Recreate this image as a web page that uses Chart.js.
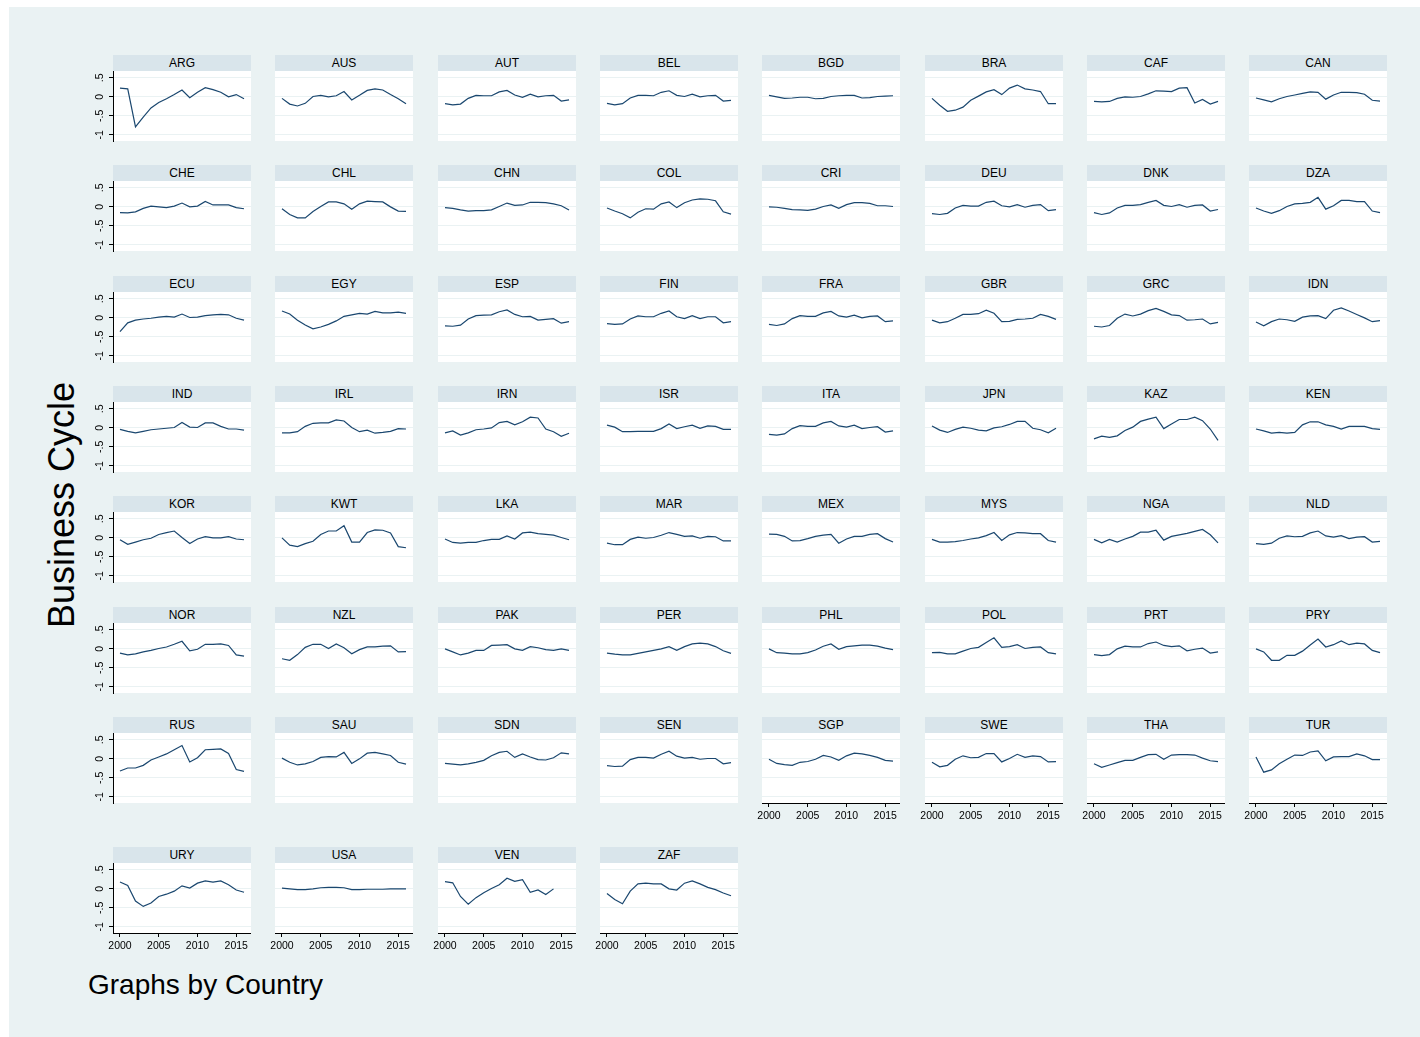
<!DOCTYPE html>
<html>
<head>
<meta charset="utf-8">
<script src="https://cdn.jsdelivr.net/npm/chart.js@4.4.1/dist/chart.umd.min.js"></script>
<style>
  body { margin: 0; background: #fff; font-family: "Liberation Sans", Arial, sans-serif; }
  #frame { position: absolute; left: 9px; top: 7px; width: 1411px; height: 1030px; background: #eaf2f3; }
  .strip { position: absolute; height: 16px; line-height: 16px; background: #d9e5eb;
           text-align: center; font-size: 12px; color: #000; }
  canvas { position: absolute; }
  #ytitle { position: absolute; left: -88px; top: 487px; width: 300px; height: 36px; line-height: 36px;
            font-size: 36px; text-align: center; white-space: nowrap; transform: rotate(-90deg); }
  #note { position: absolute; left: 88px; top: 971px; font-size: 28px; line-height: 28px; white-space: nowrap; }
</style>
</head>
<body>
<div id="frame"></div>
<div id="ytitle">Business Cycle</div>
<div id="note">Graphs by Country</div>
<script>
// business cycle component by country, 2000-2016
const years = [2000, 2001, 2002, 2003, 2004, 2005, 2006, 2007, 2008, 2009, 2010, 2011, 2012, 2013, 2014, 2015, 2016];
const xTicks = [2000, 2005, 2010, 2015];
const yTicks = [-1, -0.5, 0, 0.5];

const ARG = [0.23, 0.21, -0.79, -0.53, -0.29, -0.15, -0.05, 0.06, 0.18, -0.02, 0.12, 0.24, 0.19, 0.12, 0.0, 0.06, -0.05];
const AUS = [-0.04, -0.19, -0.24, -0.17, 0.01, 0.04, 0.0, 0.03, 0.14, -0.08, 0.04, 0.17, 0.21, 0.18, 0.06, -0.05, -0.18];
const AUT = [-0.18, -0.21, -0.19, -0.04, 0.04, 0.03, 0.03, 0.13, 0.17, 0.05, -0.01, 0.07, 0.0, 0.03, 0.04, -0.11, -0.08];
const BEL = [-0.17, -0.21, -0.18, -0.03, 0.04, 0.04, 0.03, 0.12, 0.16, 0.04, 0.01, 0.07, 0.0, 0.03, 0.04, -0.11, -0.09];
const BGD = [0.04, 0.0, -0.04, -0.03, -0.01, -0.01, -0.05, -0.04, 0.01, 0.03, 0.04, 0.04, -0.03, -0.02, 0.01, 0.02, 0.03];
const BRA = [-0.04, -0.22, -0.38, -0.35, -0.27, -0.09, 0.02, 0.13, 0.19, 0.06, 0.23, 0.31, 0.21, 0.18, 0.14, -0.18, -0.18];
const CAF = [-0.12, -0.13, -0.12, -0.04, 0.0, -0.01, 0.01, 0.08, 0.16, 0.15, 0.14, 0.23, 0.24, -0.16, -0.07, -0.19, -0.12];
const CAN = [-0.03, -0.08, -0.13, -0.05, 0.01, 0.05, 0.09, 0.13, 0.12, -0.06, 0.05, 0.12, 0.12, 0.11, 0.07, -0.09, -0.11];
const CHE = [-0.15, -0.16, -0.13, -0.04, 0.02, 0.0, -0.02, 0.02, 0.10, 0.0, 0.02, 0.14, 0.05, 0.05, 0.05, -0.02, -0.05];
const CHL = [-0.05, -0.20, -0.29, -0.29, -0.12, 0.01, 0.13, 0.13, 0.08, -0.06, 0.08, 0.15, 0.14, 0.13, 0.0, -0.11, -0.12];
const CHN = [-0.02, -0.04, -0.08, -0.11, -0.10, -0.10, -0.08, 0.01, 0.10, 0.04, 0.05, 0.12, 0.12, 0.11, 0.08, 0.03, -0.08];
const COL = [-0.03, -0.11, -0.18, -0.29, -0.14, -0.05, -0.06, 0.08, 0.13, -0.02, 0.11, 0.18, 0.21, 0.2, 0.16, -0.13, -0.19];
const CRI = [0.0, -0.01, -0.04, -0.07, -0.08, -0.09, -0.06, 0.01, 0.05, -0.04, 0.06, 0.11, 0.11, 0.09, 0.03, 0.03, 0.01];
const DEU = [-0.18, -0.2, -0.17, -0.03, 0.04, 0.02, 0.02, 0.12, 0.15, 0.03, 0.0, 0.06, -0.01, 0.04, 0.06, -0.1, -0.07];
const DNK = [-0.15, -0.2, -0.16, -0.03, 0.04, 0.04, 0.06, 0.12, 0.17, 0.04, 0.01, 0.06, -0.01, 0.04, 0.05, -0.11, -0.07];
const DZA = [-0.03, -0.11, -0.17, -0.1, 0.01, 0.08, 0.09, 0.12, 0.25, -0.06, 0.03, 0.17, 0.17, 0.14, 0.14, -0.11, -0.15];
const ECU = [-0.36, -0.13, -0.06, -0.03, -0.01, 0.02, 0.04, 0.02, 0.1, 0.01, 0.02, 0.06, 0.08, 0.09, 0.08, -0.01, -0.06];
const EGY = [0.18, 0.10, -0.06, -0.19, -0.29, -0.24, -0.17, -0.08, 0.04, 0.08, 0.12, 0.1, 0.17, 0.13, 0.13, 0.15, 0.12];
const ESP = [-0.21, -0.22, -0.19, -0.03, 0.06, 0.07, 0.08, 0.16, 0.21, 0.09, 0.03, 0.04, -0.06, -0.04, -0.02, -0.14, -0.1];
const FIN = [-0.15, -0.17, -0.16, -0.03, 0.05, 0.03, 0.03, 0.12, 0.18, 0.03, -0.02, 0.06, -0.02, 0.03, 0.03, -0.13, -0.1];
const FRA = [-0.17, -0.2, -0.16, -0.02, 0.06, 0.04, 0.04, 0.13, 0.17, 0.05, 0.02, 0.07, 0.0, 0.04, 0.05, -0.1, -0.08];
const GBR = [-0.06, -0.13, -0.1, -0.01, 0.09, 0.09, 0.11, 0.2, 0.12, -0.1, -0.09, -0.04, -0.03, -0.01, 0.09, 0.04, -0.04];
const GRC = [-0.22, -0.24, -0.2, -0.01, 0.1, 0.05, 0.1, 0.19, 0.25, 0.17, 0.08, 0.06, -0.06, -0.05, -0.03, -0.16, -0.12];
const IDN = [-0.11, -0.21, -0.1, -0.03, -0.05, -0.09, 0.02, 0.05, 0.06, -0.02, 0.2, 0.26, 0.18, 0.09, 0.0, -0.1, -0.07];
const IND = [-0.04, -0.09, -0.13, -0.09, -0.05, -0.03, -0.01, 0.01, 0.14, 0.02, 0.01, 0.13, 0.13, 0.04, -0.03, -0.03, -0.06];
const IRL = [-0.13, -0.13, -0.1, 0.04, 0.12, 0.13, 0.13, 0.21, 0.18, 0.01, -0.1, -0.06, -0.14, -0.12, -0.09, -0.02, -0.03];
const IRN = [-0.13, -0.08, -0.19, -0.13, -0.05, -0.03, 0.0, 0.14, 0.17, 0.08, 0.16, 0.28, 0.26, -0.03, -0.1, -0.22, -0.14];
const ISR = [0.07, 0.02, -0.1, -0.1, -0.09, -0.09, -0.09, -0.02, 0.1, -0.02, 0.03, 0.07, -0.01, 0.05, 0.04, -0.04, -0.04];
const ITA = [-0.17, -0.19, -0.16, -0.02, 0.06, 0.04, 0.04, 0.13, 0.17, 0.05, 0.02, 0.07, -0.02, 0.01, 0.03, -0.11, -0.08];
const JPN = [0.05, -0.06, -0.12, -0.04, 0.02, -0.01, -0.06, -0.08, 0.0, 0.03, 0.09, 0.17, 0.17, -0.01, -0.05, -0.13, -0.01];
const KAZ = [-0.29, -0.22, -0.25, -0.21, -0.07, 0.02, 0.17, 0.23, 0.28, -0.02, 0.1, 0.22, 0.22, 0.28, 0.19, -0.03, -0.33];
const KEN = [-0.03, -0.08, -0.14, -0.12, -0.14, -0.12, 0.08, 0.16, 0.16, 0.08, 0.04, -0.03, 0.04, 0.04, 0.04, -0.02, -0.04];
const KOR = [-0.05, -0.17, -0.11, -0.05, -0.01, 0.09, 0.14, 0.18, 0.01, -0.15, -0.03, 0.03, 0.0, 0.0, 0.03, -0.03, -0.05];
const KWT = [0.0, -0.19, -0.23, -0.15, -0.09, 0.09, 0.18, 0.18, 0.32, -0.11, -0.11, 0.14, 0.21, 0.2, 0.13, -0.23, -0.26];
const LKA = [-0.03, -0.12, -0.14, -0.12, -0.12, -0.07, -0.04, -0.04, 0.05, -0.03, 0.13, 0.15, 0.11, 0.09, 0.07, 0.01, -0.05];
const MAR = [-0.14, -0.18, -0.18, -0.04, 0.02, -0.01, 0.01, 0.07, 0.14, 0.09, 0.04, 0.05, -0.01, 0.04, 0.03, -0.08, -0.08];
const MEX = [0.1, 0.09, 0.04, -0.08, -0.07, -0.02, 0.04, 0.07, 0.09, -0.14, -0.03, 0.04, 0.04, 0.09, 0.11, -0.02, -0.11];
const MYS = [-0.04, -0.11, -0.11, -0.1, -0.07, -0.03, 0.0, 0.06, 0.14, -0.07, 0.08, 0.14, 0.13, 0.11, 0.11, -0.07, -0.11];
const NGA = [-0.04, -0.13, -0.04, -0.11, -0.03, 0.04, 0.15, 0.15, 0.2, -0.06, 0.04, 0.08, 0.12, 0.17, 0.22, 0.08, -0.13];
const NLD = [-0.15, -0.17, -0.14, -0.01, 0.05, 0.03, 0.04, 0.13, 0.18, 0.05, 0.02, 0.06, -0.02, 0.02, 0.03, -0.11, -0.09];
const NOR = [-0.11, -0.16, -0.13, -0.08, -0.04, 0.01, 0.05, 0.12, 0.2, -0.05, -0.01, 0.12, 0.12, 0.13, 0.09, -0.16, -0.19];
const NZL = [-0.26, -0.30, -0.15, 0.04, 0.12, 0.12, 0.01, 0.13, 0.03, -0.13, -0.02, 0.05, 0.05, 0.07, 0.08, -0.08, -0.07];
const PAK = [0.0, -0.08, -0.16, -0.11, -0.04, -0.04, 0.09, 0.1, 0.11, 0.0, -0.04, 0.06, 0.03, -0.02, -0.04, 0.0, -0.04];
const PER = [-0.11, -0.14, -0.16, -0.16, -0.12, -0.08, -0.04, 0.0, 0.06, -0.04, 0.06, 0.13, 0.15, 0.13, 0.06, -0.05, -0.12];
const PHL = [0.0, -0.1, -0.11, -0.13, -0.13, -0.1, -0.03, 0.07, 0.13, -0.01, 0.06, 0.08, 0.1, 0.1, 0.07, 0.02, -0.02];
const POL = [-0.1, -0.09, -0.13, -0.13, -0.06, 0.01, 0.04, 0.17, 0.29, 0.04, 0.06, 0.11, 0.01, 0.04, 0.05, -0.1, -0.13];
const PRT = [-0.15, -0.18, -0.15, 0.0, 0.07, 0.05, 0.05, 0.14, 0.18, 0.09, 0.06, 0.08, -0.05, -0.01, 0.02, -0.11, -0.08];
const PRY = [0.0, -0.08, -0.3, -0.3, -0.17, -0.17, -0.06, 0.1, 0.26, 0.05, 0.11, 0.21, 0.11, 0.15, 0.13, -0.04, -0.1];
const RUS = [-0.32, -0.24, -0.24, -0.17, -0.03, 0.05, 0.13, 0.24, 0.35, -0.08, 0.03, 0.24, 0.25, 0.26, 0.14, -0.28, -0.33];
const SAU = [0.02, -0.09, -0.16, -0.13, -0.07, 0.04, 0.06, 0.05, 0.17, -0.12, 0.0, 0.15, 0.17, 0.13, 0.09, -0.09, -0.14];
const SDN = [-0.12, -0.14, -0.16, -0.13, -0.09, -0.04, 0.08, 0.17, 0.2, 0.04, 0.13, 0.05, -0.02, -0.03, 0.03, 0.16, 0.13];
const SEN = [-0.18, -0.2, -0.19, -0.02, 0.04, 0.04, 0.02, 0.12, 0.2, 0.07, 0.02, 0.04, -0.01, 0.01, 0.01, -0.13, -0.1];
const SGP = [-0.01, -0.12, -0.15, -0.17, -0.09, -0.07, -0.01, 0.09, 0.05, -0.04, 0.08, 0.15, 0.13, 0.09, 0.04, -0.04, -0.06];
const SWE = [-0.09, -0.21, -0.17, -0.01, 0.08, 0.03, 0.04, 0.14, 0.14, -0.08, 0.01, 0.12, 0.04, 0.08, 0.06, -0.08, -0.07];
const THA = [-0.13, -0.22, -0.16, -0.1, -0.04, -0.04, 0.04, 0.11, 0.12, -0.01, 0.1, 0.11, 0.11, 0.1, 0.02, -0.05, -0.07];
const TUR = [0.05, -0.35, -0.29, -0.13, -0.01, 0.1, 0.09, 0.18, 0.21, -0.05, 0.05, 0.06, 0.06, 0.13, 0.08, -0.02, -0.02];
const URY = [0.18, 0.09, -0.32, -0.46, -0.37, -0.2, -0.14, -0.06, 0.08, 0.02, 0.15, 0.21, 0.18, 0.21, 0.11, -0.03, -0.09];
const USA = [0.02, 0.0, -0.02, -0.02, 0.0, 0.03, 0.04, 0.04, 0.03, -0.02, -0.02, -0.01, -0.01, -0.01, 0.0, 0.0, 0.0];
const VEN = [0.19, 0.16, -0.2, -0.4, -0.23, -0.1, 0.01, 0.11, 0.28, 0.2, 0.24, -0.09, -0.03, -0.15, 0.0];
const ZAF = [-0.12, -0.28, -0.39, -0.06, 0.13, 0.15, 0.13, 0.13, 0.0, -0.03, 0.15, 0.21, 0.13, 0.04, -0.02, -0.11, -0.18];

const countries = ['ARG','AUS','AUT','BEL','BGD','BRA','CAF','CAN','CHE','CHL','CHN','COL','CRI','DEU','DNK','DZA',
  'ECU','EGY','ESP','FIN','FRA','GBR','GRC','IDN','IND','IRL','IRN','ISR','ITA','JPN','KAZ','KEN',
  'KOR','KWT','LKA','MAR','MEX','MYS','NGA','NLD','NOR','NZL','PAK','PER','PHL','POL','PRT','PRY',
  'RUS','SAU','SDN','SEN','SGP','SWE','THA','TUR','URY','USA','VEN','ZAF'];
const series = [ARG, AUS, AUT, BEL, BGD, BRA, CAF, CAN, CHE, CHL, CHN, COL, CRI, DEU, DNK, DZA,
  ECU, EGY, ESP, FIN, FRA, GBR, GRC, IDN, IND, IRL, IRN, ISR, ITA, JPN, KAZ, KEN,
  KOR, KWT, LKA, MAR, MEX, MYS, NGA, NLD, NOR, NZL, PAK, PER, PHL, POL, PRT, PRY,
  RUS, SAU, SDN, SEN, SGP, SWE, THA, TUR, URY, USA, VEN, ZAF];

Chart.defaults.font.family = '"Liberation Sans", Arial, sans-serif';
Chart.defaults.color = '#000';

// white plot region behind each panel
const plotBg = {
  id: 'plotBg',
  beforeDraw(chart) {
    const a = chart.chartArea, c = chart.ctx;
    c.save();
    c.fillStyle = '#fff';
    c.fillRect(a.left, a.top, a.right - a.left, a.bottom - a.top);
    c.restore();
  }
};

// stata style: -1 -.5 0 .5
const fmtY = v => v === 0 ? '0' : String(v).replace(/^(-?)0\./, '$1.');

const rowTops = [55, 165, 276, 386, 496, 607, 717, 847];
const AXW = 36, AXH = 26, PW = 138, PH = 70, STRIP = 16;

countries.forEach((code, i) => {
  const row = Math.floor(i / 8), col = i % 8;
  const left = Math.round(113 + col * 162.3);
  const top = rowTops[row];
  const showY = col === 0;
  const showX = row === 7 || (row === 6 && col >= 4);

  const strip = document.createElement('div');
  strip.className = 'strip';
  strip.style.left = left + 'px';
  strip.style.top = top + 'px';
  strip.style.width = PW + 'px';
  strip.textContent = code;
  document.body.appendChild(strip);

  const cv = document.createElement('canvas');
  cv.width = PW + AXW;
  cv.height = PH + AXH;
  cv.style.left = (left - AXW) + 'px';
  cv.style.top = (top + STRIP) + 'px';
  document.body.appendChild(cv);

  const vals = series[i];
  new Chart(cv, {
    type: 'line',
    data: {
      datasets: [{
        data: vals.map((v, k) => ({ x: years[k], y: v })),
        borderColor: '#1a476f',
        borderWidth: 1.2,
        pointRadius: 0,
        tension: 0
      }]
    },
    options: {
      responsive: false,
      animation: false,
      devicePixelRatio: 1,
      layout: { padding: 0 },
      plugins: { legend: { display: false }, tooltip: { enabled: false } },
      scales: {
        x: {
          type: 'linear', min: 1999.1, max: 2016.9,
          afterBuildTicks: sc => { sc.ticks = xTicks.map(v => ({ value: v })); },
          afterFit: sc => { sc.height = AXH; sc.paddingLeft = 0; sc.paddingRight = 0; },
          grid: { display: true, drawOnChartArea: false, drawTicks: showX, tickLength: 4, tickColor: '#000' },
          border: { display: showX, color: '#000', width: 1 },
          ticks: { display: showX, autoSkip: false, maxRotation: 0, padding: 3,
                   font: { size: 10.5 }, callback: v => String(v) }
        },
        y: {
          min: -1.16, max: 0.68,
          afterBuildTicks: sc => { sc.ticks = yTicks.map(v => ({ value: v })); },
          afterFit: sc => { sc.width = AXW; sc.paddingTop = 0; sc.paddingBottom = 0; },
          grid: { color: '#eaf2f3', lineWidth: 1, drawTicks: showY, tickLength: 4, tickColor: '#000' },
          border: { display: showY, color: '#000', width: 1 },
          ticks: { display: showY, minRotation: 90, maxRotation: 90, crossAlign: 'center', padding: 3,
                   font: { size: 10.5 }, callback: fmtY }
        }
      }
    },
    plugins: [plotBg]
  });
});
</script>
</body>
</html>
